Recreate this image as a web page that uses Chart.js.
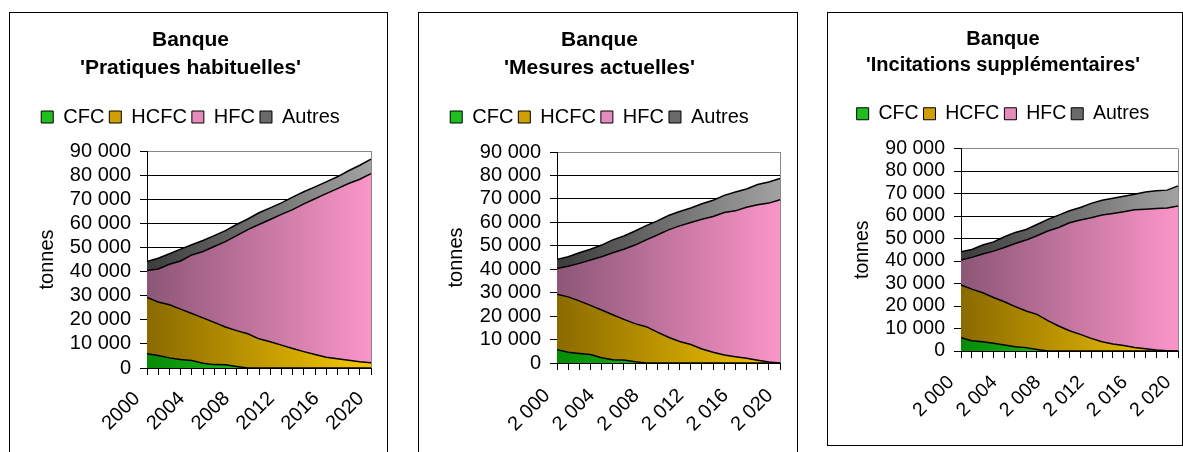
<!DOCTYPE html>
<html lang="fr">
<head>
<meta charset="UTF-8">
<title>Banque - CFC, HCFC, HFC, Autres</title>
<script src="https://cdn.jsdelivr.net/npm/chart.js"></script>
<style>
  body { margin: 0; background: #fff; }
  .panel { position: absolute; border: 1px solid #000; box-sizing: border-box; background: #fff; overflow: hidden; }
  .panel canvas { display: block; }
</style>
</head>
<body>
<div class="panel" style="left:9px;top:12px;width:379px;height:460px"><canvas id="habituel" width="377" height="445"></canvas></div>
<div class="panel" style="left:418px;top:12px;width:380px;height:460px"><canvas id="actuel" width="378" height="445"></canvas></div>
<div class="panel" style="left:827px;top:12px;width:356px;height:434px"><canvas id="incit" width="354" height="432"></canvas></div>
<script>
// années 2000 - 2020
const years = [2000, 2001, 2002, 2003, 2004, 2005, 2006, 2007, 2008, 2009, 2010,
               2011, 2012, 2013, 2014, 2015, 2016, 2017, 2018, 2019, 2020];
const seriesNames = ['CFC', 'HCFC', 'HFC', 'Autres'];
const yTicks = [0, 10000, 20000, 30000, 40000, 50000, 60000, 70000, 80000, 90000];

// 'Pratiques habituelles' (tonnes)
const cfcHab    = [5900, 5200, 4200, 3500, 3100, 2000, 1400, 1300, 600, 0, 0, 0, 0, 0, 0, 0, 0, 0, 0, 0, 0];
const hcfcHab   = [23400, 22200, 22000, 20900, 19500, 18800, 17500, 15700, 14900, 14200, 12100,
                   10900, 9500, 8100, 6800, 5600, 4500, 3800, 3200, 2600, 2200];
const hfcHab    = [11100, 13700, 16800, 20000, 24300, 27500, 31500, 35400, 39400, 43200, 47400,
                   50700, 54200, 57600, 61300, 64600, 67800, 70600, 73300, 75700, 78400];
const autresHab = [3800, 4400, 4400, 4900, 4200, 4600, 4500, 4600, 4600, 4400, 4900,
                   4800, 4800, 5200, 5000, 4900, 4900, 4900, 5300, 5800, 6000];

// 'Mesures actuelles'
const cfcMes    = [5700, 4600, 4100, 3600, 2200, 1400, 1300, 500, 0, 0, 0, 0, 0, 0, 0, 0, 0, 0, 0, 0, 0];
const hcfcMes   = [23600, 23600, 22400, 21000, 20400, 19200, 17300, 16300, 15500, 13200, 11000,
                   9200, 7900, 6000, 4600, 3400, 2700, 2000, 1200, 400, 0];
const hfcMes    = [11000, 13100, 16000, 19300, 22700, 26400, 29900, 33500, 37000, 41400, 45800,
                   49300, 52000, 55300, 57900, 60800, 62200, 64400, 66300, 67800, 69600];
const autresMes = [3900, 4000, 4500, 4600, 5000, 5500, 5700, 6000, 6100, 6000, 6100,
                   6100, 6200, 6600, 6900, 7300, 8000, 7800, 8600, 9000, 9100];

// 'Incitations supplémentaires'
const cfcInc    = [5900, 4600, 4100, 3400, 2700, 1900, 1500, 700, 0, 0, 0, 0, 0, 0, 0, 0, 0, 0, 0, 0, 0];
const hcfcInc   = [23400, 22900, 21800, 20400, 19200, 17800, 16300, 15600, 13500, 11100, 9000,
                   7400, 5600, 4100, 3100, 2400, 1600, 1000, 400, 100, 0];
const hfcInc    = [11100, 14100, 17200, 20600, 24100, 28100, 31500, 34900, 39800, 43800, 48000,
                   50800, 53600, 56300, 58000, 59500, 61200, 62000, 62900, 63500, 64400];
const autresInc = [3700, 3500, 4000, 4100, 4800, 4900, 4700, 5000, 5200, 5500, 5300,
                   5600, 6400, 6600, 6800, 6900, 6900, 7700, 7900, 7900, 9000];

Chart.defaults.font.family = '"Liberation Sans", Arial, sans-serif';
Chart.defaults.color = '#000';

// dégradés horizontaux (gauche foncé -> droite clair)
const gradColors = [['#068a06', '#3af03a'], ['#8a6a00', '#f7c800'], ['#8c5676', '#fb95c9'], ['#3c3c3c', '#a2a2a2']];
const legendColors = ['#1fbf1f', '#cfa000', '#e48dbd', '#6a6a6a'];

function gradientFill(i) {
    return function(ctx) {
        const area = ctx.chart.chartArea;
        if (!area) return gradColors[i][0];
        const g = ctx.chart.ctx.createLinearGradient(area.left, 0, area.right, 0);
        g.addColorStop(0, gradColors[i][0]);
        g.addColorStop(1, gradColors[i][1]);
        return g;
    };
}

function spaced(v) {
    return String(v).replace(/\B(?=(\d{3})+(?!\d))/g, ' ');
}

// trait gris du bord droit de la zone de tracé
const plotBorder = {
    id: 'plotBorder',
    beforeDatasetsDraw(chart) {
        const a = chart.chartArea, c = chart.ctx;
        c.save();
        c.strokeStyle = '#888';
        c.lineWidth = 1;
        c.beginPath();
        c.moveTo(a.right + 0.5, a.top);
        c.lineTo(a.right + 0.5, a.bottom);
        c.stroke();
        c.restore();
    }
};

function makeChart(id, title, data, cfg) {
    const fs = cfg.fontSize;
    const datasets = data.map((values, i) => ({
        label: seriesNames[i],
        data: values,
        fill: i === 0 ? 'origin' : '-1',
        backgroundColor: gradientFill(i),
        borderColor: '#000',
        borderWidth: 1.5,
        pointRadius: 0,
        tension: 0
    }));
    return new Chart(document.getElementById(id), {
        type: 'line',
        data: { labels: years, datasets: datasets },
        plugins: [plotBorder],
        options: {
            responsive: false,
            animation: false,
            layout: { padding: { left: 0, right: cfg.padRight, top: 0, bottom: 0 } },
            plugins: {
                title: {
                    display: true,
                    text: ['Banque', title],
                    font: { size: cfg.titleSize, weight: 'bold', lineHeight: cfg.titleLine / cfg.titleSize },
                    padding: { top: cfg.titleTop, bottom: cfg.titleBottom }
                },
                subtitle: {
                    display: true,
                    text: '',
                    weight: 500,
                    font: { size: 10, lineHeight: 1 },
                    padding: { top: cfg.gap, bottom: 0 }
                },
                legend: {
                    labels: {
                        boxWidth: 12,
                        boxHeight: 12,
                        padding: 5,
                        font: { size: fs },
                        generateLabels: chart => Chart.defaults.plugins.legend.labels.generateLabels(chart)
                            .map((l, i) => Object.assign(l, { fillStyle: legendColors[i], strokeStyle: '#000', lineWidth: 1 }))
                    }
                },
                tooltip: { enabled: false }
            },
            scales: {
                x: {
                    grid: { drawOnChartArea: false, color: '#000', tickLength: 7 },
                    border: { color: '#000' },
                    ticks: {
                        autoSkip: false,
                        minRotation: 45,
                        maxRotation: 45,
                        padding: cfg.xPad,
                        labelOffset: -10,
                        font: { size: fs },
                        callback: (v, i) => i % 4 === 0 ? (cfg.spacedYears ? spaced(years[i]) : String(years[i])) : ''
                    },
                    afterFit: s => { s.height = cfg.xHeight; s.paddingRight = 0; }
                },
                y: {
                    stacked: true,
                    min: 0,
                    max: 90000,
                    afterBuildTicks: s => { s.ticks = yTicks.map(v => ({ value: v })); },
                    grid: {
                        color: ctx => ctx.tick && ctx.tick.value === 90000 ? '#888' : '#000',
                        tickColor: '#000',
                        tickLength: 7
                    },
                    border: { color: '#000' },
                    ticks: { autoSkip: false, padding: 9, font: { size: fs }, callback: v => spaced(v) },
                    title: { display: true, text: 'tonnes', font: { size: fs }, padding: { top: cfg.yTitle, bottom: 0 } },
                    afterFit: s => { s.width = cfg.yWidth; }
                }
            }
        }
    });
}

makeChart('habituel', "'Pratiques habituelles'", [cfcHab, hcfcHab, hfcHab, autresHab],
    { fontSize: 20, titleSize: 21, titleLine: 28, titleTop: 13, titleBottom: 20, gap: 4, xPad: 12,
      padRight: 16, xHeight: 90, yWidth: 137, yTitle: 25, spacedYears: false });
makeChart('actuel', "'Mesures actuelles'", [cfcMes, hcfcMes, hfcMes, autresMes],
    { fontSize: 20, titleSize: 21, titleLine: 28, titleTop: 13, titleBottom: 20, gap: 5, xPad: 14,
      padRight: 17, xHeight: 95, yWidth: 138, yTitle: 25, spacedYears: true });
makeChart('incit', "'Incitations supplémentaires'", [cfcInc, hcfcInc, hfcInc, autresInc],
    { fontSize: 19.5, titleSize: 20, titleLine: 26, titleTop: 13, titleBottom: 21, gap: 5, xPad: 13,
      padRight: 4, xHeight: 94, yWidth: 133, yTitle: 23, spacedYears: true });
</script>
</body>
</html>
